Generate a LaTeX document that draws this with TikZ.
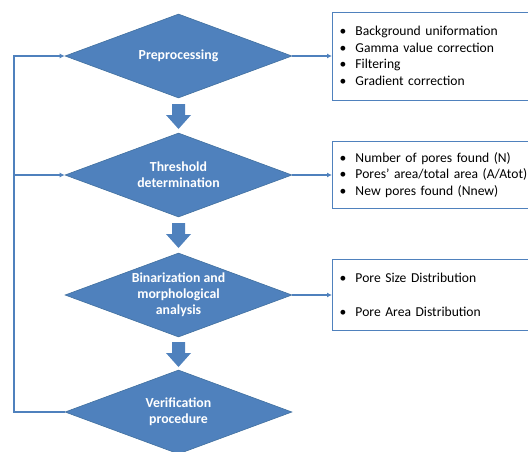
\documentclass[tikz,border=0pt]{standalone}
\usepackage{fontspec}
\setmainfont{Carlito}
\usetikzlibrary{shapes.geometric,arrows.meta}
\definecolor{flowblue}{HTML}{4F81BD}
\definecolor{flowedge}{HTML}{41709F}
\newcommand{\bul}[1]{\makebox[16pt][l]{\textbullet}#1}
\begin{document}
\begin{tikzpicture}[x = 1pt, y = -1pt,
    step box/.style = {diamond, fill = flowblue, draw = flowedge, line width = 0.6pt,
      minimum width = 227pt, minimum height = 84pt, inner sep = 0pt, aspect = 2.7,
      text = white, align = center, font = \bfseries\fontsize{13.8}{16}\selectfont},
    info box/.style = {draw = flowblue, line width = 1pt, anchor = west, fill = white,
      text width = 190pt, inner xsep = 7pt, align = left,
      font = \fontsize{13.6}{16.6}\selectfont},
    link/.style = {draw = flowblue, line width = 1.1pt, -{Latex[length=5pt, width=5pt]}}]
    \useasboundingbox (0, 0) rectangle (528, 451);
    \clip (0, 0) rectangle (528, 451);

    % main steps
    \node[step box] (pre) at (178.5, 56) {Preprocessing};
    \node[step box] (thr) at (178.5, 175) {Threshold\\determination};
    \node[step box] (bin) at (178.5, 295) {Binarization and\\morphological\\analysis};
    \node[step box] (ver) at (178.5, 412) {Verification\\procedure};

    % block arrows between the steps
    \foreach \t in {104, 223, 342}
       \fill[flowblue] (172, \t) -- (185, \t) -- (185, \t + 11) -- (191, \t + 11)
          -- (178.5, \t + 25) -- (166, \t + 11) -- (172, \t + 11) -- cycle;

    % info boxes
    \node[info box, minimum height = 88pt] (prebox) at (332, 56)
       {\bul{Background uniformation}\\ \bul{Gamma value correction}\\
        \bul{Filtering}\\ \bul{Gradient correction}};
    \node[info box, minimum height = 67pt] (thrbox) at (332, 175)
       {\bul{Number of pores found (N)}\\ \bul{Pores’ area/total area (A/Atot)}\\
        \bul{New pores found (Nnew)}};
    \node[info box, minimum height = 71pt, font = \fontsize{13.6}{34}\selectfont] (binbox) at (332, 295)
       {\bul{Pore Size Distribution}\\ \bul{Pore Area Distribution}};

    \draw[link] (pre.east) -- (prebox.west);
    \draw[link] (thr.east) -- (thrbox.west);
    \draw[link] (bin.east) -- (binbox.west);

    % feedback loop
    \coordinate (back) at (14, 0);
    \draw[link] (ver.west) -- (ver.west -| back) |- (pre.west);
    \draw[link] (thr.west -| back) -- (thr.west);

  \end{tikzpicture}
\end{document}
